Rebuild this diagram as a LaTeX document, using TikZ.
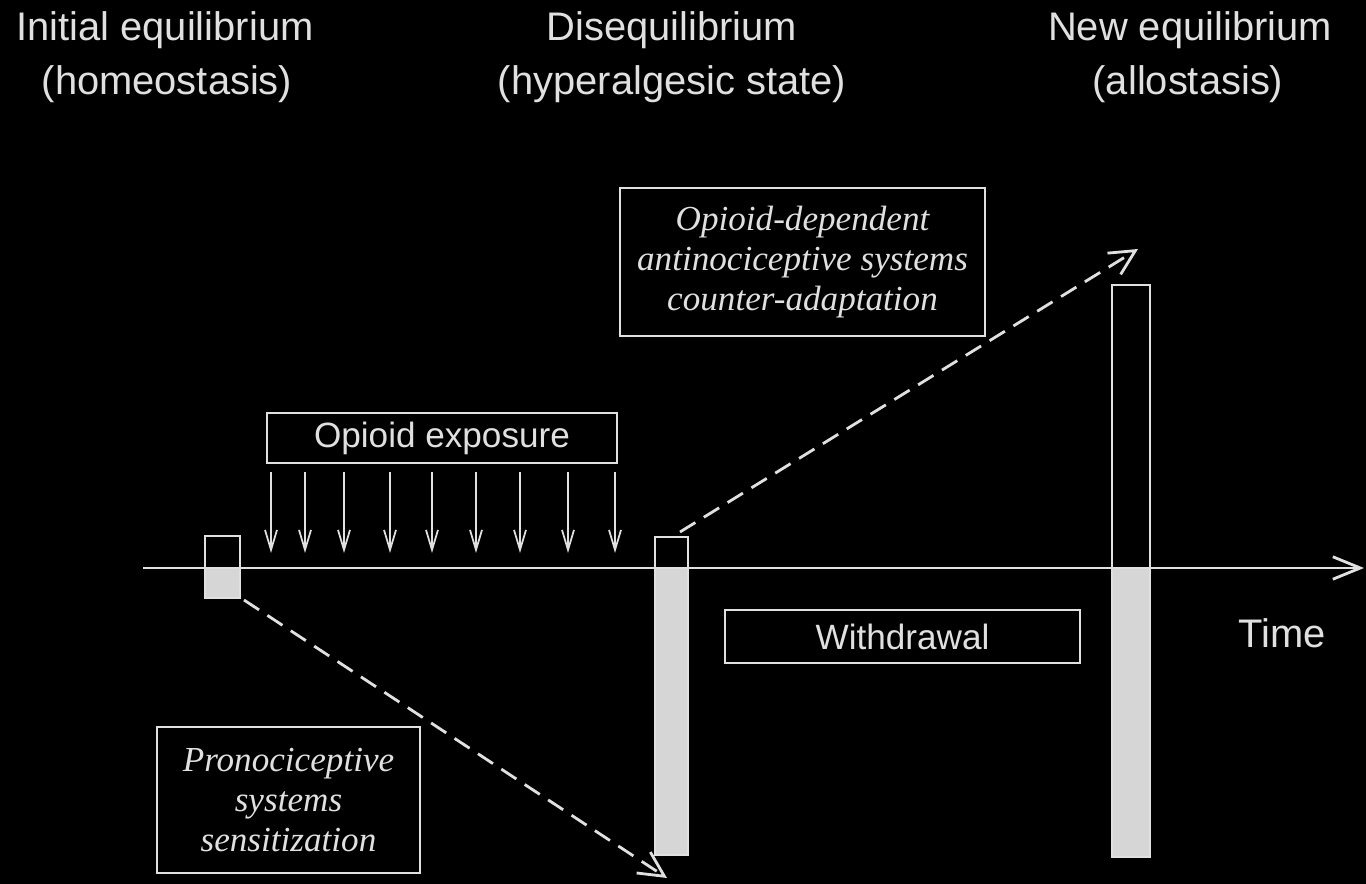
\documentclass[tikz,border=0pt]{standalone}
\usepackage{fontspec}
\setmainfont{Liberation Sans}
\newfontfamily\serifit{Liberation Serif}
\usetikzlibrary{arrows.meta}

\definecolor{ink}{gray}{0.88}
\definecolor{barfill}{gray}{0.84}

\begin{document}
\begin{tikzpicture}[x=0.02cm,y=-0.02cm,
    >={Straight Barb[length=5mm,width=5mm]},
    head/.style={text=ink,anchor=base,font=\fontsize{22.7}{27}\selectfont},
    labelbox/.style={draw=ink,line width=1pt,text=ink,inner sep=0pt,align=center},
    slant/.style={font=\serifit\itshape\fontsize{20}{22.8}\selectfont},
    upbar/.style={draw=ink,line width=1pt,inner sep=0pt,outer sep=0pt},
    downbar/.style={upbar,fill=barfill}]

    % Background
    \fill[black] (0,0) rectangle (1366,884);
    \useasboundingbox (0,0) rectangle (1366,884);

    % Phase titles
    \node[head] (initA) at (165,41) {Initial equilibrium};
    \node[head] (initB) at (167,95) {(homeostasis)};
    \node[head] (disA) at (672,41) {Disequilibrium};
    \node[head] (disB) at (672,95) {(hyperalgesic state)};
    \node[head] (newA) at (1190,41) {New equilibrium};
    \node[head] (newB) at (1188,95) {(allostasis)};

    % Bars
    \node[upbar,minimum width=0.7cm,minimum height=0.64cm] (initUp) at (222.5,552) {};
    \node[downbar,minimum width=0.7cm,minimum height=0.6cm] (initDown) at (222.5,583) {};
    \node[upbar,minimum width=0.66cm,minimum height=0.62cm] (disUp) at (671.5,552.5) {};
    \node[downbar,minimum width=0.66cm,minimum height=5.74cm] (disDown) at (671.5,711.5) {};
    \node[upbar,minimum width=0.76cm,minimum height=5.66cm] (newUp) at (1131,426.5) {};
    \node[downbar,minimum width=0.76cm,minimum height=5.78cm] (newDown) at (1131,712.5) {};

    % Time axis
    \coordinate (t0) at (143,568);
    \coordinate (tEnd) at (1364,568);
    \draw[->,ink,line width=1.6pt,>={Straight Barb[length=5.5mm,width=4.5mm]}] (t0) -- (tEnd);
    \node[head] (time) at (1282,648) {Time};

    % Opioid exposure
    \node[labelbox,minimum width=7cm,minimum height=1cm,font=\fontsize{20}{24}\selectfont]
        (expo) at (442,438) {Opioid exposure};
    \foreach \x in {271,305,344,390,432,476,520,568,615}
        \draw[->,ink,line width=1pt,>={Straight Barb[length=4mm,width=2.4mm]}]
            (\x,472) -- (\x,553);

    % Withdrawal
    \node[labelbox,minimum width=7.1cm,minimum height=1.06cm,font=\fontsize{20}{24}\selectfont]
        (withd) at (902.5,636.5) {Withdrawal};

    % Adaptations
    \node[labelbox,slant,minimum width=7.3cm,minimum height=2.96cm] (adapt) at (802.5,262)
        {Opioid-dependent\\antinociceptive systems\\counter-adaptation};
    \node[labelbox,slant,minimum width=5.26cm,minimum height=2.92cm] (sens) at (288.5,800)
        {Pronociceptive\\systems\\sensitization};

    % Dashed trends
    \coordinate (adaptTip) at (1138,249);
    \coordinate (sensTip) at (667,878);
    \draw[->,ink,line width=1.6pt,dash pattern=on 0.36cm off 0.2cm]
        ([shift={(-8,-5)}]disUp.north east) -- (adaptTip);
    \draw[->,ink,line width=1.6pt,dash pattern=on 0.36cm off 0.2cm]
        ([shift={(4,2)}]initDown.south east) -- (sensTip);
\end{tikzpicture}
\end{document}
